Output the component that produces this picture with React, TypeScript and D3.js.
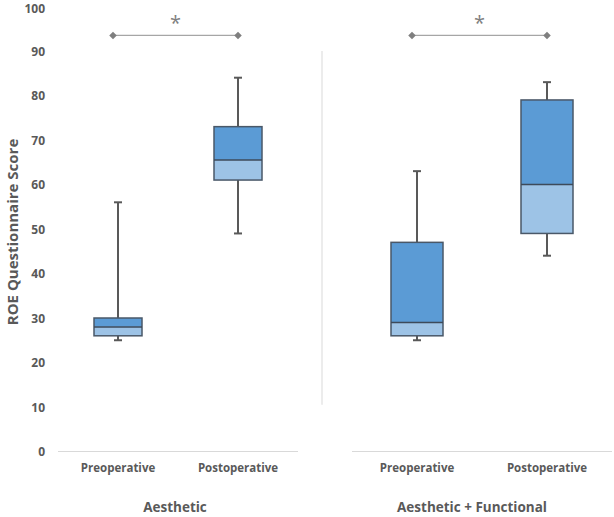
import { useEffect, useRef } from 'react';
import * as d3 from 'd3';

// Box stats: [min, q1, median, q3, max]
const categories = ['Preoperative', 'Postoperative'];
const panels = ['Aesthetic', 'Aesthetic + Functional'];
const aestheticStats = [
  [25, 26, 28, 30, 56],
  [49, 61, 65.5, 73, 84],
];
const functionalStats = [
  [25, 26, 29, 47, 63],
  [44, 49, 60, 79, 83],
];
const yTicks = [0, 10, 20, 30, 40, 50, 60, 70, 80, 90, 100];
const significanceLevel = 93.5;

const W = 614;
const H = 517;

export default function App() {
  const svgRef = useRef<SVGSVGElement>(null);

  useEffect(() => {
    if (!svgRef.current) return;
    const svg = d3.select(svgRef.current);
    svg.selectAll('*').remove();

    const font = '"Open Sans", "Noto Sans", sans-serif';
    const textColor = '#595959';
    const y = d3.scaleLinear().domain([0, 100]).range([451.5, 6.5]);

    // Y axis labels (alphabetic baseline, kept inside the top edge)
    svg.append('g')
      .selectAll('text')
      .data(yTicks)
      .join('text')
      .attr('x', 45)
      .attr('y', d => Math.max(13, y(d) + 4.8))
      .attr('text-anchor', 'end')
      .attr('font-family', font)
      .attr('font-size', 12)
      .attr('font-weight', 700)
      .attr('fill', textColor)
      .text(d => d);

    svg.append('text')
      .attr('transform', `translate(14, ${y(50) + 3}) rotate(-90)`)
      .attr('text-anchor', 'middle')
      .attr('dominant-baseline', 'middle')
      .attr('font-family', font)
      .attr('font-size', 15)
      .attr('font-weight', 700)
      .attr('fill', textColor)
      .text('ROE Questionnaire Score');

    // Panel separator
    svg.append('line')
      .attr('x1', 322).attr('x2', 322)
      .attr('y1', y(90)).attr('y2', y(10.5))
      .attr('stroke', '#d9d9d9')
      .attr('stroke-width', 1);

    const panelDefs = [
      { name: panels[0], stats: aestheticStats, range: [58, 298] },
      { name: panels[1], stats: functionalStats, range: [352, 612] },
    ];

    panelDefs.forEach(p => {
      const x = d3.scaleBand().domain(categories).range(p.range as [number, number]).padding(0);
      const g = svg.append('g');
      const bw = x.bandwidth() * 0.4;
      const cx = (c: string) => (x(c) ?? 0) + x.bandwidth() / 2;

      // baseline
      g.append('line')
        .attr('x1', p.range[0]).attr('x2', p.range[1])
        .attr('y1', y(0)).attr('y2', y(0))
        .attr('stroke', '#d9d9d9')
        .attr('stroke-width', 1);

      categories.forEach((c, i) => {
        const [mn, q1, med, q3, mx] = p.stats[i];
        const xc = cx(c);
        const whisker = '#595959';
        // whiskers
        g.append('line').attr('x1', xc).attr('x2', xc).attr('y1', y(q3)).attr('y2', y(mx))
          .attr('stroke', whisker).attr('stroke-width', 2);
        g.append('line').attr('x1', xc).attr('x2', xc).attr('y1', y(q1)).attr('y2', y(mn))
          .attr('stroke', whisker).attr('stroke-width', 2);
        [mn, mx].forEach(v => {
          g.append('line').attr('x1', xc - 4).attr('x2', xc + 4).attr('y1', y(v)).attr('y2', y(v))
            .attr('stroke', whisker).attr('stroke-width', 2);
        });
        // upper box (median -> q3)
        g.append('rect')
          .attr('x', xc - bw / 2).attr('width', bw)
          .attr('y', y(q3)).attr('height', y(med) - y(q3))
          .attr('fill', '#5b9bd5');
        // lower box (q1 -> median)
        g.append('rect')
          .attr('x', xc - bw / 2).attr('width', bw)
          .attr('y', y(med)).attr('height', y(q1) - y(med))
          .attr('fill', '#9dc3e6');
        g.append('rect')
          .attr('x', xc - bw / 2).attr('width', bw)
          .attr('y', y(q3)).attr('height', y(q1) - y(q3))
          .attr('fill', 'none')
          .attr('stroke', '#4a5868')
          .attr('stroke-width', 1.5);
        g.append('line')
          .attr('x1', xc - bw / 2).attr('x2', xc + bw / 2)
          .attr('y1', y(med)).attr('y2', y(med))
          .attr('stroke', '#3d4a5a')
          .attr('stroke-width', 1.5);

        // category label
        g.append('text')
          .attr('x', xc).attr('y', 469)
          .attr('text-anchor', 'middle')
          .attr('dominant-baseline', 'middle')
          .attr('font-family', font)
          .attr('font-size', 11.5)
          .attr('font-weight', 700)
          .attr('fill', textColor)
          .text(c);
      });

      // significance bracket
      const x1 = cx(categories[0]) - 5;
      const x2 = cx(categories[1]);
      const ys = y(significanceLevel);
      g.append('line').attr('x1', x1).attr('x2', x2).attr('y1', ys).attr('y2', ys)
        .attr('stroke', '#a6a6a6').attr('stroke-width', 1.2);
      [x1, x2].forEach(xv => {
        g.append('path')
          .attr('d', d3.symbol(d3.symbolDiamond2, 36)())
          .attr('transform', `translate(${xv}, ${ys})`)
          .attr('fill', '#7f7f7f');
      });
      g.append('text')
        .attr('x', (x1 + x2) / 2).attr('y', 30)
        .attr('text-anchor', 'middle')
        .attr('font-family', font)
        .attr('font-size', 20)
        .attr('fill', '#7f7f7f')
        .text('*');

      // panel title
      g.append('text')
        .attr('x', (p.range[0] + p.range[1]) / 2 + (p.name === panels[0] ? -3 : -10))
        .attr('y', 508)
        .attr('text-anchor', 'middle')
        .attr('dominant-baseline', 'middle')
        .attr('font-family', font)
        .attr('font-size', 13.5)
        .attr('font-weight', 700)
        .attr('fill', textColor)
        .text(p.name);
    });
  }, []);

  return (
    <div style={{ position: 'absolute', left: 0, top: 0 }}>
      <svg ref={svgRef} width={W} height={H} style={{ display: 'block', background: '#fff' }} />
    </div>
  );
}
